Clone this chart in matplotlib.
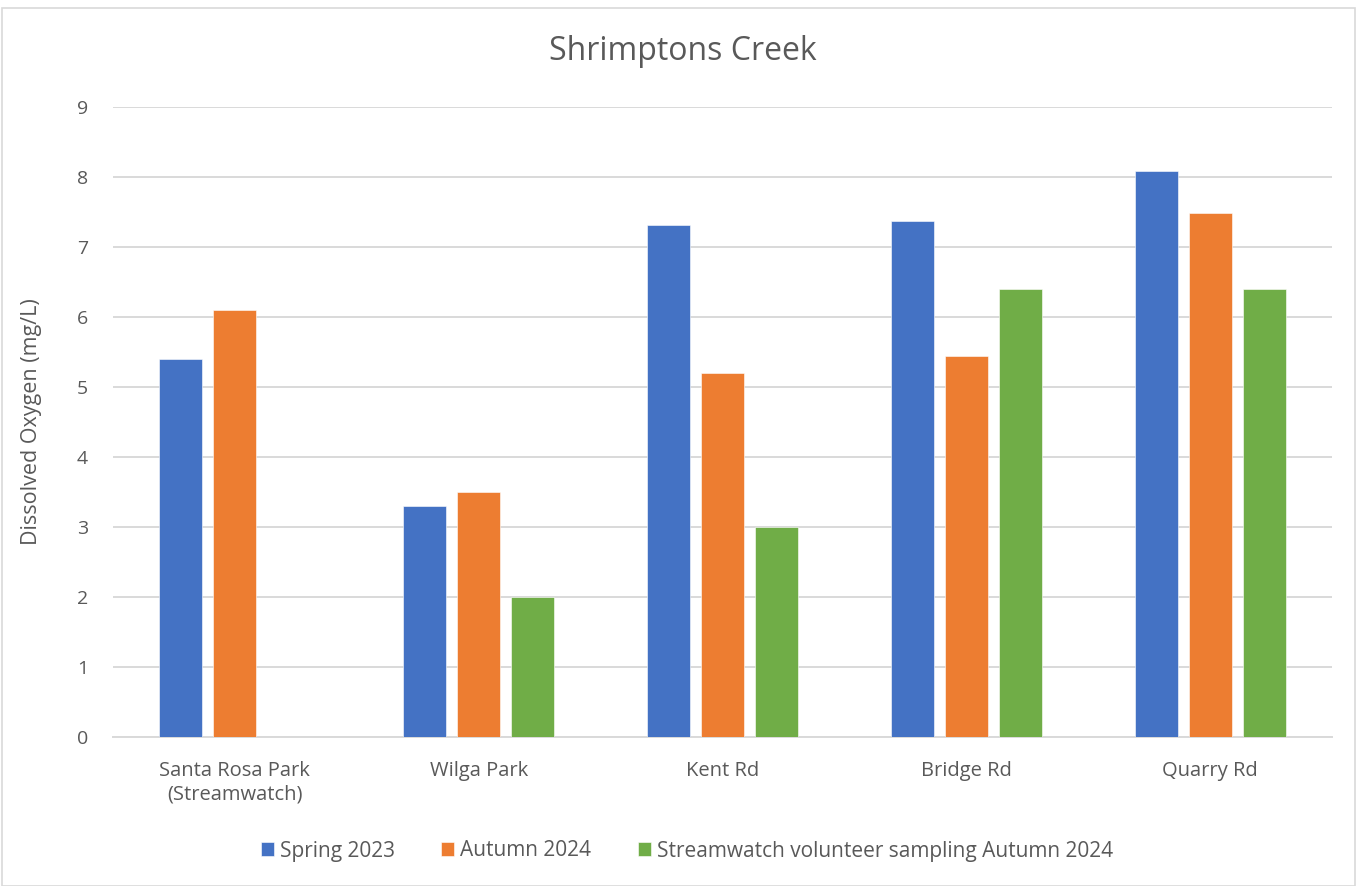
import matplotlib
matplotlib.use("Agg")
import matplotlib.pyplot as plt
import numpy as np
from matplotlib.patches import Rectangle

plt.rcParams['font.family'] = ['Open Sans', 'DejaVu Sans']

sites = ["Santa Rosa Park\n(Streamwatch)", "Wilga Park", "Kent Rd", "Bridge Rd", "Quarry Rd"]
spring_2023 = [5.4, 3.3, 7.32, 7.37, 8.08]
autumn_2024 = [6.1, 3.5, 5.2, 5.44, 7.48]
streamwatch_autumn_2024 = [np.nan, 2.0, 3.0, 6.4, 6.4]
series_names = ["Spring 2023", "Autumn 2024", "Streamwatch volunteer sampling Autumn 2024"]
colors = ["#4472C4", "#ED7D31", "#70AD47"]
yticks = list(range(0, 10))

W, H = 1361, 886
fig = plt.figure(figsize=(W / 100, H / 100), dpi=100)
txt = "#595959"

# chart border
fig.patches.append(Rectangle((2 / W, 0), (1355 - 2) / W, 1 - 8 / H, transform=fig.transFigure,
                             fill=False, edgecolor="#d9d9d9", linewidth=1.2))

ax = fig.add_axes([113 / W, 1 - 737 / H, (1332 - 113) / W, (737 - 107) / H])
x = np.arange(len(sites))
width = 0.176
step = 0.2215
for i, (vals, name, c) in enumerate(zip([spring_2023, autumn_2024, streamwatch_autumn_2024], series_names, colors)):
    ax.bar(x + (i - 1) * step, vals, width, color=c, label=name, zorder=3,
           edgecolor="white", linewidth=0.4)

ax.set_xlim(-0.5, len(sites) - 0.5)
ax.set_ylim(0, 9)
ax.set_yticks(yticks)
ax.set_yticklabels([str(v) for v in yticks], fontsize=14, color=txt)
ax.set_xticks(x)
ax.set_xticklabels(sites, fontsize=14.5, color=txt, linespacing=1.25)
ax.tick_params(axis="both", length=0)
ax.tick_params(axis="x", pad=17)
ax.tick_params(axis="y", pad=18)
ax.grid(axis="y", color="#d9d9d9", linewidth=1.4, zorder=0)
for s in ["top", "right", "left"]:
    ax.spines[s].set_visible(False)
ax.spines["bottom"].set_color("#d9d9d9")
ax.spines["bottom"].set_linewidth(1.4)

ax.set_ylabel("Dissolved Oxygen (mg/L)", fontsize=15.5, color=txt, labelpad=25)
fig.text(683 / W, 1 - 52 / H, "Shrimptons Creek", ha="center", va="center", fontsize=23, color=txt)

leg = fig.legend(loc="center", bbox_to_anchor=(687 / W, 1 - 851 / H), ncol=3, frameon=False,
                 fontsize=15, handlelength=0.62, handleheight=0.62, handletextpad=0.29,
                 columnspacing=2.25)
for t in leg.get_texts():
    t.set_color(txt)

fig.savefig("out.png", dpi=100)
